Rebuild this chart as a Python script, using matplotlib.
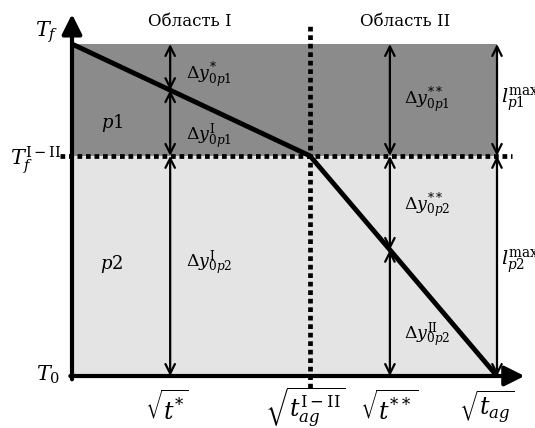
import matplotlib
matplotlib.use("Agg")
import matplotlib.pyplot as plt

# chart values (x: relative sqrt(t) positions, y: relative temperature levels)
x_labels = [r"$\sqrt{t^{*}}$", r"$\sqrt{t_{ag}^{\mathrm{I-II}}}$", r"$\sqrt{t^{**}}$", r"$\sqrt{t_{ag}}$"]
x_ticks = [0.231, 0.56, 0.748, 1.0]
y_levels = [0.0, 0.663, 1.0]          # T0, Tf^{I-II}, Tf
curve_x = [0.0, 0.231, 0.56, 0.748, 1.0]
curve_y = [1.0, 0.861, 0.663, 0.38, 0.0]
region_names = ["Область I", "Область II"]

plt.rcParams["mathtext.fontset"] = "dejavuserif"
plt.rcParams["font.family"] = ["DejaVu Serif"]

fig = plt.figure(figsize=(5.35, 4.28), dpi=100)
ax = fig.add_axes([0, 0, 1, 1])
ax.set_xlim(-72 / 425, 463 / 425)
ax.set_ylim(-52 / 332, 376 / 332)
ax.axis("off")

T0, T12, Tf = y_levels
x_end = x_ticks[-1]

# shaded phases
ax.fill_between([0, x_end], T12, Tf, color="#8b8b8b", lw=0)
ax.fill_between([0, x_end], T0, T12, color="#e4e4e4", lw=0)

# axes with arrows
ax.annotate("", xy=(0, 1.09), xytext=(0, T0 - 0.01),
            arrowprops=dict(arrowstyle="-|>", lw=3, color="black",
                            mutation_scale=30, shrinkA=0, shrinkB=0))
ax.annotate("", xy=(1.065, T0), xytext=(-0.004, T0),
            arrowprops=dict(arrowstyle="-|>", lw=3, color="black",
                            mutation_scale=30, shrinkA=0, shrinkB=0))

# dotted boundaries
ax.plot([-0.028, 1.035], [T12, T12], color="black", lw=3.4, ls=(0, (1, 0.8)))
ax.plot([x_ticks[1], x_ticks[1]], [-0.036, 1.06], color="black", lw=3.4, ls=(0, (1, 0.8)))

# curve
ax.plot(curve_x, curve_y, color="black", lw=3.5, solid_capstyle="butt")

def darrow(x, y0, y1):
    ax.annotate("", xy=(x, y1), xytext=(x, y0),
                arrowprops=dict(arrowstyle="<->", lw=1.6, color="black",
                                mutation_scale=17, shrinkA=0, shrinkB=0))

darrow(x_ticks[0], Tf, curve_y[1])
darrow(x_ticks[0], curve_y[1], T12)
darrow(x_ticks[0], T12, T0)
darrow(x_ticks[2], Tf, T12)
darrow(x_ticks[2], T12, curve_y[3])
darrow(x_ticks[2], curve_y[3], T0)
darrow(x_end, Tf, T12)
darrow(x_end, T12, T0)

fs = 12.5
def px(x):
    return (x - 72) / 425

def py(y):
    return (376 - y) / 332

ax.text(px(190), py(22), region_names[0], fontsize=12, ha="center", va="center")
ax.text(px(405), py(22), region_names[1], fontsize=12, ha="center", va="center")

ax.text(px(47), py(32), r"$T_f$", fontsize=15, ha="center", va="center")
ax.text(px(36), py(160), r"$T_f^{\mathrm{I-II}}$", fontsize=15, ha="center", va="center")
ax.text(px(48), py(375), r"$T_0$", fontsize=15, ha="center", va="center")

ax.text(px(112), py(123), r"$p1$", fontsize=13, ha="center", va="center")
ax.text(px(112), py(264), r"$p2$", fontsize=13, ha="center", va="center")

labels = [
    (186, 75, r"$\Delta y^{*}_{0p1}$"),
    (186, 137, r"$\Delta y^{\mathrm{I}}_{0p1}$"),
    (186, 263, r"$\Delta y^{\mathrm{I}}_{0p2}$"),
    (404, 100, r"$\Delta y^{**}_{0p1}$"),
    (404, 206, r"$\Delta y^{**}_{0p2}$"),
    (404, 335, r"$\Delta y^{\mathrm{II}}_{0p2}$"),
]
for x, y, s in labels:
    ax.text(px(x), py(y), s, fontsize=fs, ha="left", va="center")
ax.text(px(501), py(100), r"$l^{\max}_{p1}$", fontsize=14, ha="left", va="center")
ax.text(px(501), py(262), r"$l^{\max}_{p2}$", fontsize=14, ha="left", va="center")

tick_px = [167, 305, 389, 487]
for xp, s in zip(tick_px, x_labels):
    ax.text(px(xp), py(407), s, fontsize=17, ha="center", va="center")

fig.savefig("out.png", dpi=100, facecolor="white")
